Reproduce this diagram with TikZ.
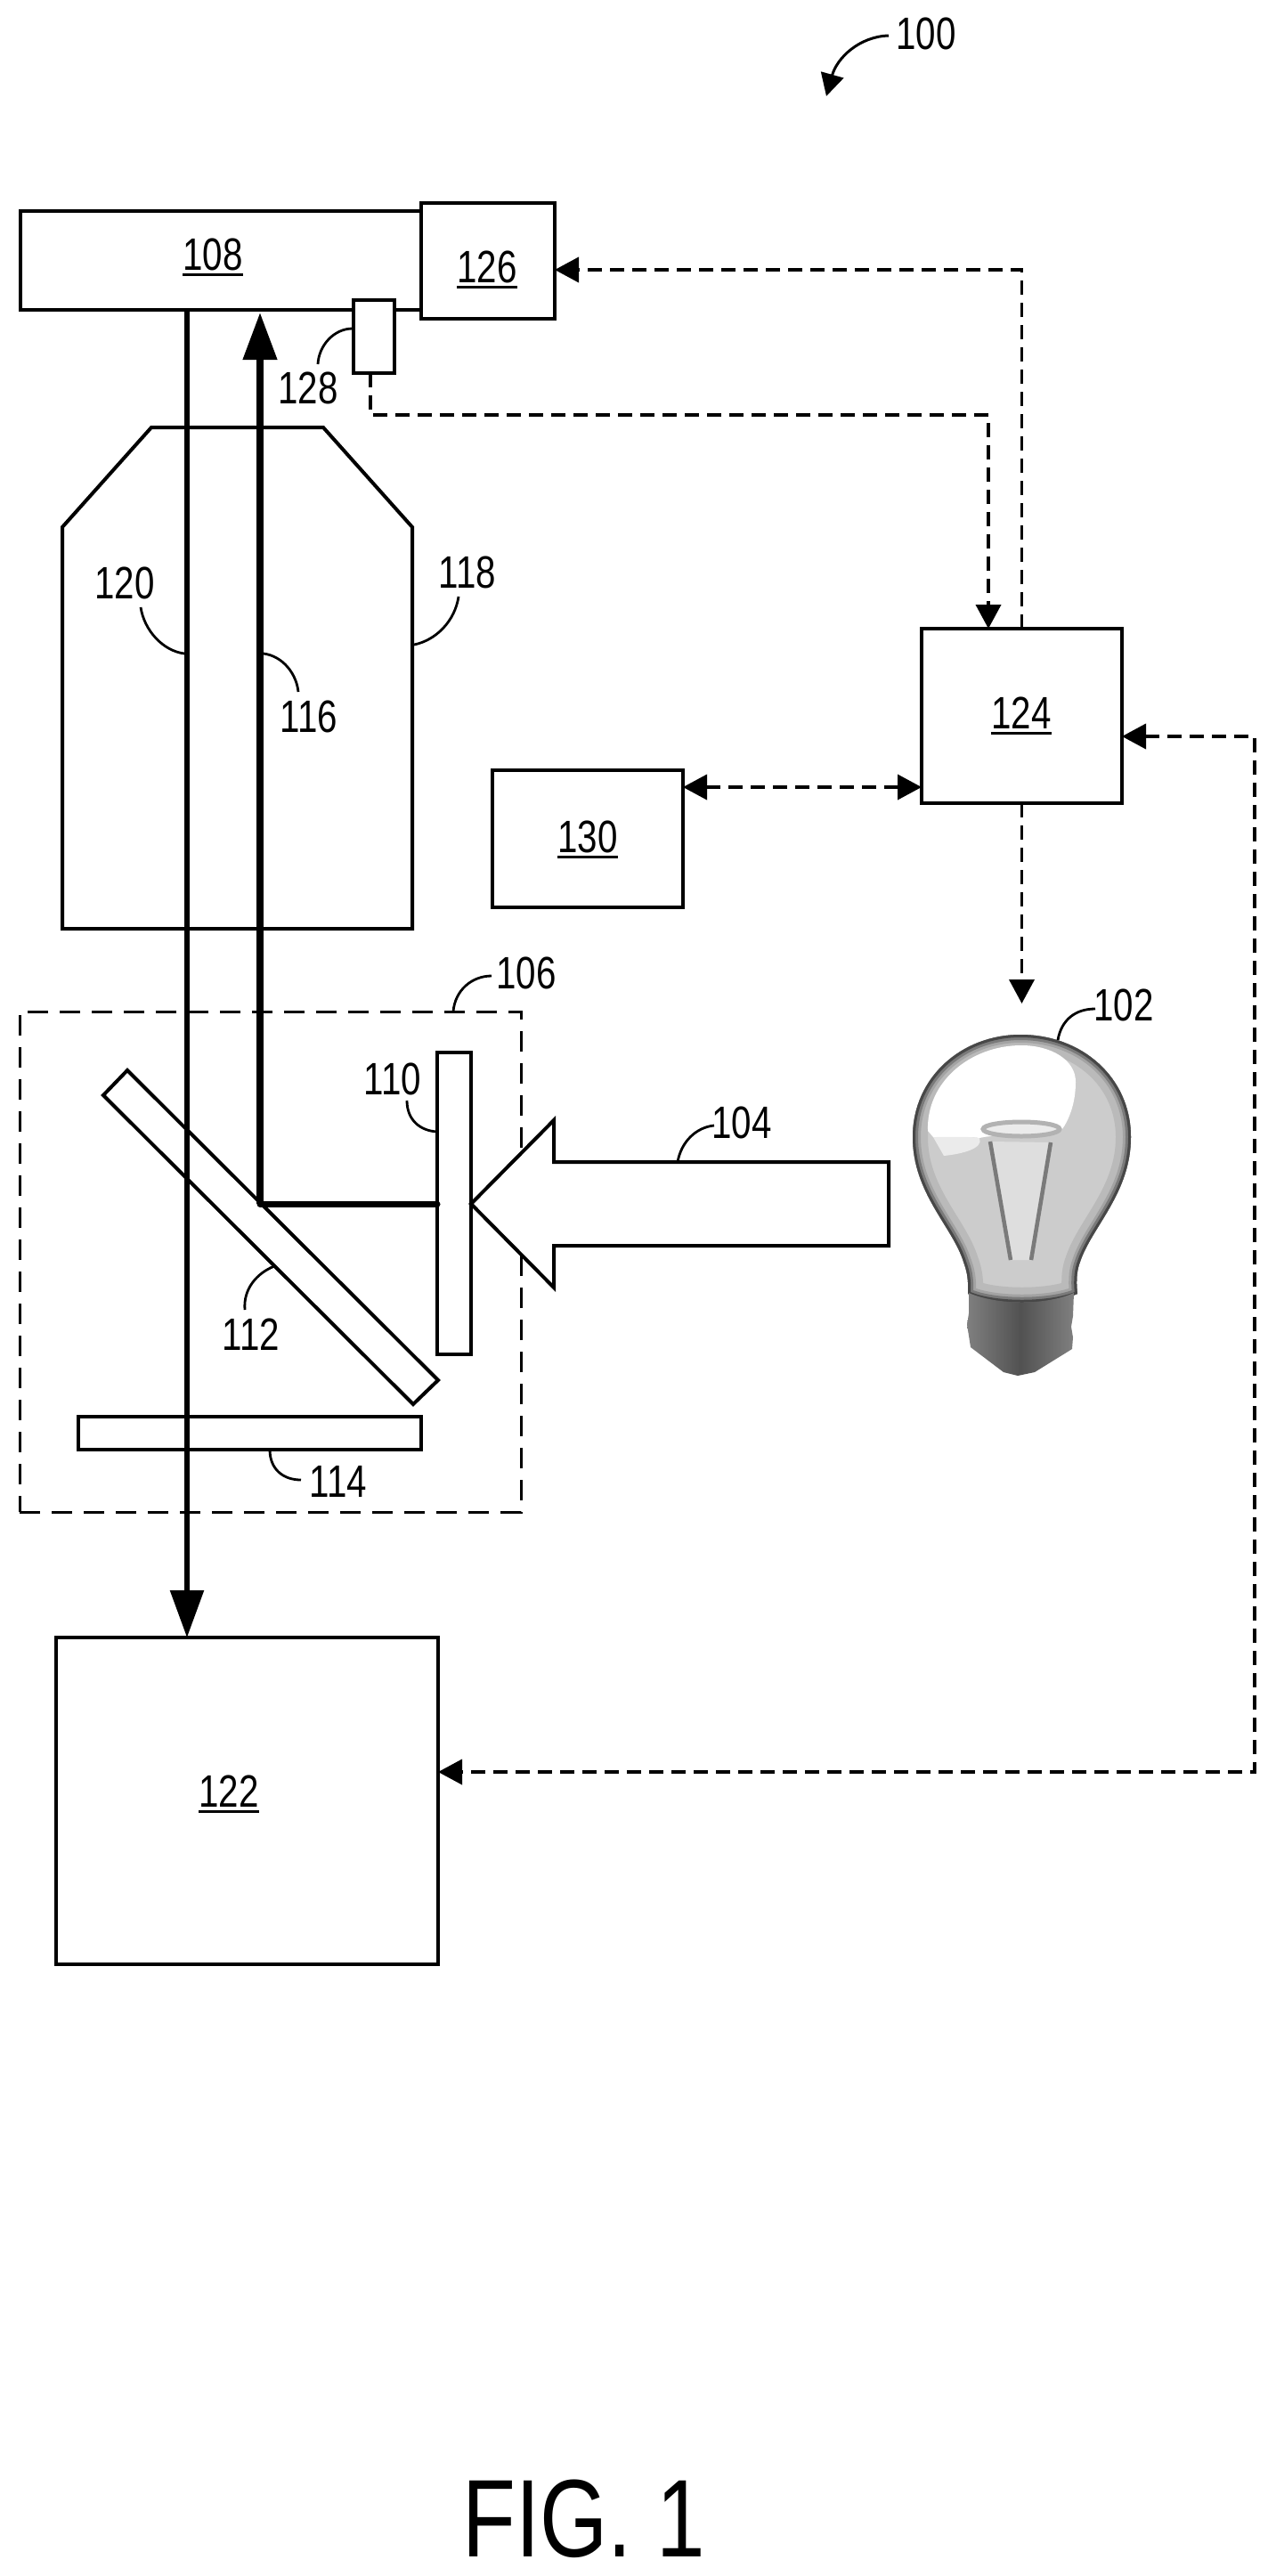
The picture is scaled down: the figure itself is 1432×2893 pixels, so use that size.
\documentclass[tikz,border=0pt]{standalone}
\usepackage{fontspec}
\setmainfont[FakeStretch=0.79]{Liberation Sans}
\usetikzlibrary{arrows.meta,calc}
\newcommand\ulab[1]{\setbox0\hbox{#1}\rlap{\rule[-7pt]{\wd0}{2.6pt}}\box0}
\newcommand\bulbshape{(1087,1453) .. controls (1088,1435) and (1085,1425) .. (1082,1417)
  .. controls (1070,1378) and (1025,1340) .. (1025,1277)
  .. controls (1025,1210) and (1080,1162) .. (1146,1162)
  .. controls (1215,1162) and (1270,1210) .. (1270,1277)
  .. controls (1270,1340) and (1226,1378) .. (1213,1417)
  .. controls (1210,1425) and (1208,1435) .. (1210,1453)
  .. controls (1180,1466) and (1115,1466) .. (1087,1453) -- cycle}
\tikzset{
  boxn/.style={draw=black,fill=white,line width=4pt,rectangle,inner sep=0pt,outer sep=0pt},
  lab/.style={inner sep=0pt,font=\fontsize{51}{56}\selectfont},
  ulb/.style={inner sep=0pt,anchor=base,font=\fontsize{51}{56}\selectfont},
  part/.style={draw=black,fill=white,line width=4pt,line join=miter},
  leader/.style={draw=black,line width=2.8pt},
  dashc/.style={draw=black,line width=3.8pt,dash pattern=on 16pt off 9pt},
  dtip/.style={-{Triangle[length=27pt,width=28pt]}},
  dtips/.style={{Triangle[length=27pt,width=28pt]}-{Triangle[length=27pt,width=28pt]}},
  beamthin/.style={draw=black,line width=5.5pt,-{Triangle[length=53pt,width=37pt]}},
  beamthick/.style={draw=black,line width=7.5pt,-{Triangle[length=53pt,width=37pt]}},
}
\begin{document}
\begin{tikzpicture}[x=1pt,y=-1pt]
\useasboundingbox (0,0) rectangle (1432,2893);
\fill[white] (0,0) rectangle (1432,2893);
% optical enclosure
\node[draw=black,line width=3pt,dash pattern=on 23pt off 13pt,minimum width=563pt,minimum height=562pt,inner sep=0pt,outer sep=0pt] (n106) at (303.5,1417) {};
% objective
\draw[part] (170,480) -- (363,480) -- (463,592) -- (463,1043) -- (70,1043) -- (70,592) -- cycle;
% elements
\node[boxn,minimum width=450pt,minimum height=111pt] (n108) at (247.7,292.5) {};
\node[ulb] (t108) at (239,303) {\ulab{108}};
\draw[part] (143,1202) -- (116,1230) -- (464,1577) -- (492,1550) -- cycle;
\node[boxn,minimum width=385pt,minimum height=37pt] (n114) at (280.5,1609.5) {};
\node[boxn,minimum width=38pt,minimum height=339pt] (n110) at (510,1351.5) {};
% beams
\coordinate (b120) at (210,347);
\node[boxn,minimum width=429pt,minimum height=367pt] (n122) at (277.5,2022.5) {};
\node[ulb] (t122) at (257,2029) {\ulab{122}};
\draw[beamthin] (b120) -- (b120 |- n122.north);
\coordinate (b116) at (292,1352);
\draw[draw=black,line width=7pt,line cap=round] (n110.west |- b116) -- (b116);
\draw[beamthick] (b116) -- (292,351);
% big incoming arrow
\coordinate (a104) at (529,1352);
\coordinate (e104) at (998,1352);
\draw[part] (a104) -- (622,1258) -- (622,1305) -- (998,1305) -- (998,1399) -- (622,1399) -- (622,1446) -- cycle;
% blocks
\node[boxn,minimum width=150pt,minimum height=130pt] (n126) at (548,293) {};
\node[ulb] (t126) at (547,317) {\ulab{126}};
\node[boxn,minimum width=46pt,minimum height=82pt] (n128) at (420,378) {};
\node[boxn,minimum width=225pt,minimum height=196pt] (n124) at (1147.5,804) {};
\node[ulb] (t124) at (1147,818) {\ulab{124}};
\node[boxn,minimum width=214pt,minimum height=154pt] (n130) at (660,942) {};
\node[ulb] (t130) at (660,957) {\ulab{130}};
% control lines
\coordinate (c1) at (1110,466);
\coordinate (c2) at (1147.5,303);
\coordinate (c3) at (1409,827);
\coordinate (c4) at (1409,1990);
\coordinate (c5) at (900,884);
\coordinate (c6) at (1147.5,1127);
\draw[dashc,dtip] (n124.north) -- (c2) -- (c2 -| n126.east);
\draw[dashc,dtip] ([xshift=-4pt]n128.south) |- (c1) -- (c1 |- n124.north);
\draw[dashc,dtips] (c5 -| n130.east) -- (c5 -| n124.west);
\draw[dashc,dtip] (n124.south) -- (c6);
\draw[dashc,dtips] (c3 -| n124.east) -- (c3) -- (c4) -- (c4 -| n122.east);
% bulb
\fill[black!20] \bulbshape;
\begin{scope}
\clip \bulbshape;
\draw[black!27,line width=34pt] \bulbshape;
\draw[black!36,line width=18pt] \bulbshape;
\draw[black!52,line width=12pt] \bulbshape;
\draw[black!72,line width=6pt] \bulbshape;
\end{scope}
\fill[white] (1042,1270) .. controls (1040,1215) and (1090,1174) .. (1147,1174)
  .. controls (1180,1174) and (1208,1190) .. (1208,1215)
  .. controls (1208,1240) and (1200,1258) .. (1193,1268)
  .. controls (1170,1285) and (1135,1270) .. (1100,1278)
  .. controls (1085,1276) and (1060,1278) .. (1048,1277) -- cycle;
\fill[black!8] (1048,1277) .. controls (1065,1277) and (1085,1276) .. (1100,1278) .. controls (1105,1290) and (1080,1296) .. (1060,1298) -- cycle;
\draw[black!30,line width=5pt,fill=black!8] (1147,1268) ellipse [x radius=43pt,y radius=8pt];
\fill[black!13] (1112,1282) -- (1180,1283) -- (1158,1415) -- (1135,1415) -- cycle;
\draw[black!52,line width=4.5pt] (1112,1282) -- (1135,1415);
\draw[black!52,line width=4.5pt] (1180,1283) -- (1158,1415);
\shade[left color=black!50,right color=black!50,middle color=black!68] (1088,1452) .. controls (1120,1466) and (1175,1466) .. (1206,1452)
  -- (1205,1478) -- (1203,1490) -- (1205,1502) -- (1204,1515)
  -- (1162,1541) -- (1143,1545) -- (1127,1541) -- (1090,1513) -- (1088,1500) -- (1086,1488) -- (1088,1475) -- cycle;
% labels
\node[lab] (t100) at (1040,38) {100};
\node[lab] (t102) at (1262,1129) {102};
\node[lab] (t104) at (833,1261) {104};
\node[lab] (t106) at (591,1093) {106};
\node[lab] (t110) at (441,1212) {110};
\node[lab] (t112) at (282,1499) {112};
\node[lab] (t114) at (380,1664) {114};
\node[lab] (t116) at (347,805) {116};
\node[lab] (t118) at (525,643) {118};
\node[lab] (t120) at (140,655) {120};
\node[lab] (t128) at (346,436) {128};
\node[inner sep=0pt,anchor=base,font=\fontsize{124}{130}\selectfont] (fig) at (655.5,2871) {FIG. 1};
% leaders
\coordinate (p100) at (998,40);
\coordinate (q100) at (928,108);
\draw[draw=black,line width=3pt,-{Triangle[length=25pt,width=26pt]}] (p100) .. controls (965,41) and (940,65) .. (q100);
\coordinate (p102) at (1230,1133);
\coordinate (q102) at (1188,1168);
\draw[leader] (p102) .. controls (1208,1133) and (1192,1145) .. (q102);
\coordinate (p104) at (802,1264);
\coordinate (q104) at (761,1305);
\draw[leader] (p104) .. controls (782,1266) and (765,1282) .. (q104);
\coordinate (p106) at (552,1096);
\coordinate (q106) at (509,1136);
\draw[leader] (p106) .. controls (530,1096) and (511,1112) .. (q106);
\coordinate (p110) at (457,1236);
\coordinate (q110) at (491,1271);
\draw[leader] (p110) .. controls (457,1258) and (472,1270) .. (q110);
\coordinate (p112) at (275,1471);
\coordinate (q112) at (308,1422);
\draw[leader] (p112) .. controls (273,1448) and (288,1430) .. (q112);
\coordinate (p114) at (303,1628);
\coordinate (q114) at (338,1662);
\draw[leader] (p114) .. controls (303,1650) and (318,1662) .. (q114);
\coordinate (p116) at (296,734);
\coordinate (q116) at (335,777);
\draw[leader] (p116) .. controls (318,737) and (333,757) .. (q116);
\coordinate (p118) at (515,670);
\coordinate (q118) at (465,724);
\draw[leader] (p118) .. controls (511,697) and (490,719) .. (q118);
\coordinate (p120) at (158,682);
\coordinate (q120) at (207,734);
\draw[leader] (p120) .. controls (162,708) and (183,731) .. (q120);
\coordinate (p128) at (396,369);
\coordinate (q128) at (357,409);
\draw[leader] (p128) .. controls (375,369) and (358,388) .. (q128);
\end{tikzpicture}
\end{document}
